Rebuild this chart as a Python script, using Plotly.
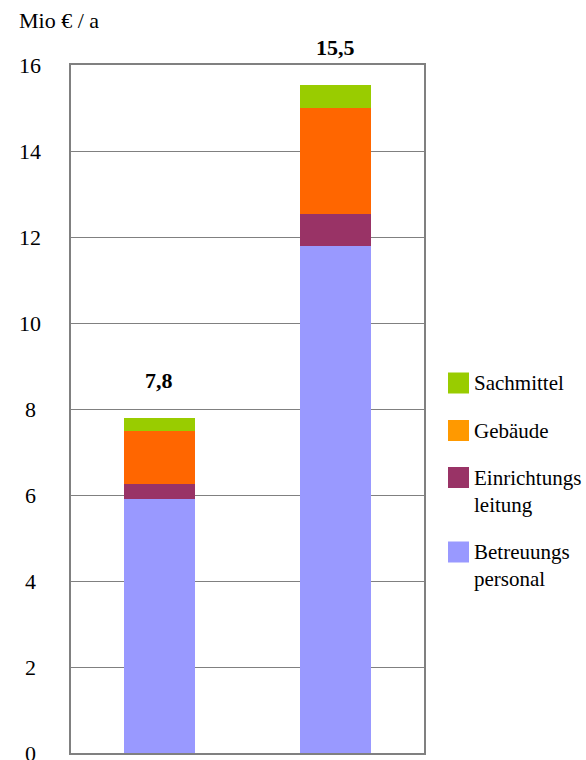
import plotly.graph_objects as go

categories = ["A", "B"]
betreuungspersonal = [5.9, 11.79]
einrichtungsleitung = [0.35, 0.75]
gebaeude = [1.25, 2.46]
sachmittel = [0.28, 0.53]
y_ticks = [0, 2, 4, 6, 8, 10, 12, 14, 16]

series = [
    ("Betreuungs<br>personal", betreuungspersonal, "#9999FF", "#9999FF"),
    ("Einrichtungs<br>leitung", einrichtungsleitung, "#993366", "#993366"),
    ("Gebäude", gebaeude, "#FF6600", "#FF9900"),
    ("Sachmittel", sachmittel, "#99CC00", "#99CC00"),
]

FONT = "Liberation Serif"
W, H = 586, 760
L, R, T, B = 71, 424, 65, 753

def px2x(px):
    return (px - L) / (R - L)

def py2y(py):
    return (B - py) / (B - T)

fig = go.Figure()
for name, vals, col, _ in series:
    fig.add_trace(go.Bar(x=categories, y=vals, name=name, marker=dict(color=col, line=dict(width=0)),
                         width=0.4, showlegend=False))

# totals
for i, c in enumerate(categories):
    tot = sum(s[1][i] for s in series)
    fig.add_annotation(x=c, y=tot, xref="x", yref="y", text="<b>" + f"{tot:.1f}".replace(".", ",") + "</b>",
                       showarrow=False, yshift=38, font=dict(family=FONT, size=22, color="black"))
# y tick labels centered
for v in y_ticks:
    fig.add_annotation(x=px2x(30), y=v, xref="paper", yref="y", text=str(v), showarrow=False,
                       xanchor="center", yanchor="middle", font=dict(family=FONT, size=22, color="black"))
# unit label
fig.add_annotation(x=px2x(17), y=py2y(20), xref="paper", yref="paper", text="Mio € / a", showarrow=False,
                   xanchor="left", yanchor="middle", font=dict(family=FONT, size=22, color="black"))

# legend drawn manually
legend_rows = [("Sachmittel", 383), ("Gebäude", 430.5), ("Einrichtungs<br>leitung", 477.5), ("Betreuungs<br>personal", 552)]
legend_colors = {s[0]: s[3] for s in series}
for name, cy in legend_rows:
    fig.add_shape(type="rect", xref="paper", yref="paper", x0=px2x(448), x1=px2x(469),
                  y0=py2y(cy + 10.5), y1=py2y(cy - 10.5), fillcolor=legend_colors[name], line=dict(width=0))
    fig.add_annotation(x=px2x(472), y=py2y(cy - 14), xref="paper", yref="paper", text=name, showarrow=False,
                       xanchor="left", yanchor="top", align="left",
                       font=dict(family=FONT, size=21, color="black"))

fig.update_layout(
    width=W, height=H,
    margin=dict(l=L, r=W - R, t=T, b=H - B),
    barmode="stack",
    plot_bgcolor="white", paper_bgcolor="white",
    showlegend=False,
)
fig.update_xaxes(showticklabels=False, showgrid=False, showline=True, mirror=True, linecolor="#808080",
                 linewidth=1.5, ticks="", zeroline=False)
fig.update_yaxes(range=[0, 16], tickvals=y_ticks, showticklabels=False, showgrid=True, gridcolor="#808080",
                 gridwidth=1, showline=True, mirror=True, linecolor="#808080", linewidth=1.5, zeroline=False, ticks="")

fig.write_html("out.html")
